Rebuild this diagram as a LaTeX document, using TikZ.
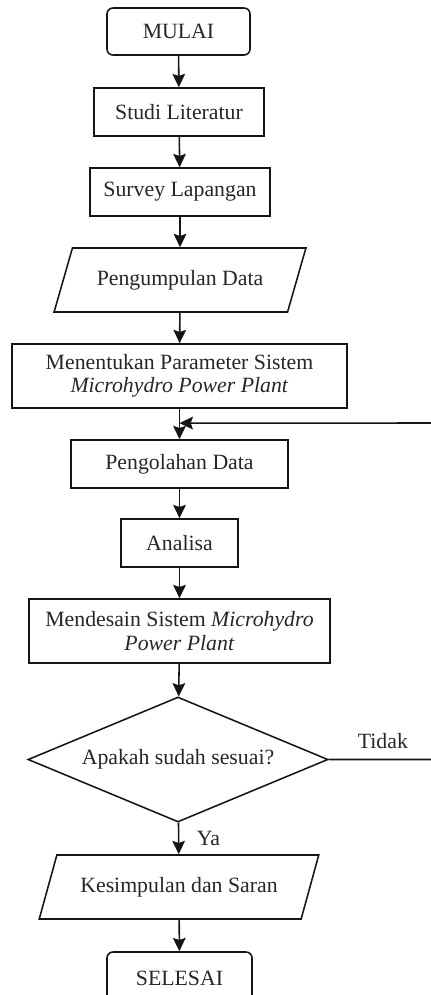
\documentclass[tikz,border=0pt]{standalone}
\usepackage{fontspec}
\setmainfont{Liberation Serif}
\usepackage{tikz}
\usetikzlibrary{shapes.geometric,arrows.meta,positioning,calc}
\definecolor{garis}{HTML}{151515}
\definecolor{teks}{HTML}{262626}

\begin{document}
\begin{tikzpicture}[
  x=0.025cm, y=-0.025cm,
  every node/.style={font=\fontsize{15.5}{16.5}\selectfont,text=teks},
  proses/.style={draw=garis,line width=1.1pt,minimum height=1.2cm,
                 align=center,inner sep=2pt},
  terminal/.style={proses,rounded corners=0.15cm,minimum height=1.175cm},
  io/.style={draw=garis,line width=1.1pt,trapezium,trapezium left angle=60,
             trapezium right angle=120,trapezium stretches=true,
             minimum height=1.6cm,align=center,inner sep=2pt},
  keputusan/.style={draw=garis,line width=1.1pt,diamond,aspect=2.4,
                    inner sep=0pt,minimum width=7.5cm,minimum height=3.125cm},
  arr/.style={-{Stealth[length=9.5pt,width=9pt,inset=1.5pt]},line width=1.1pt,draw=garis},
  lbl/.style={inner sep=1pt}
]
\useasboundingbox (0,0) rectangle (431,995);

%% Alur utama (atas ke bawah)
\node[terminal,minimum width=3.575cm] (mulai)   at (178.5,31.5) {MULAI};
\node[proses,minimum width=4.25cm]    (studi)   at (179,112)    {Studi Literatur};
\node[proses,minimum width=4.5cm]     (survey)  at (180,192)    {Survey Lapangan};
\node[io,minimum width=6.3cm]         (kumpul)  at (180,280)    {Pengumpulan Data};
\node[proses,minimum width=8.375cm,minimum height=1.6cm] (param) at (179.5,376)
  {Menentukan Parameter Sistem\\\textit{Microhydro Power Plant}};
\node[proses,minimum width=5.425cm]   (olah)    at (179.5,464)  {Pengolahan Data};
\node[proses,minimum width=2.925cm]   (analisa) at (179.5,543)  {Analisa};
\node[proses,minimum width=7.525cm,minimum height=1.6cm] (desain) at (179.5,631)
  {Mendesain Sistem \textit{Microhydro}\\\textit{Power Plant}};
\node[keputusan]                      (cek)     at (178,759.5)  {Apakah sudah sesuai?};
\node[io,minimum width=7.0cm]         (simpul)  at (179,887)    {Kesimpulan dan Saran};
\node[terminal,minimum width=3.625cm,minimum height=1.3cm] (selesai) at (179.5,978) {SELESAI};

%% Panah lurus ke bawah
\draw[arr] (mulai)   -- (studi);
\draw[arr] (studi)   -- (survey);
\draw[arr] (survey)  -- (kumpul);
\draw[arr] (kumpul)  -- (param);
\draw[arr] (param)   -- (olah);
\draw[arr] (olah)    -- (analisa);
\draw[arr] (analisa) -- (desain);
\draw[arr] (desain)  -- (cek);
\draw[arr] (cek) -- node[lbl,right=0.4cm]{Ya} (simpul);
\draw[arr] (simpul)  -- (selesai);

%% Tidak: kembali ke Pengolahan Data (lewat kanan)
\coordinate (gabung) at ($(param.south)!0.47!(olah.north)$);
\coordinate (balik)  at (445,423);
\draw[arr] (cek.east) -- node[lbl,above=0.22cm,xshift=-0.1cm]{Tidak} (cek.east -| balik)
  -- (balik) -- (gabung);

\end{tikzpicture}
\end{document}
